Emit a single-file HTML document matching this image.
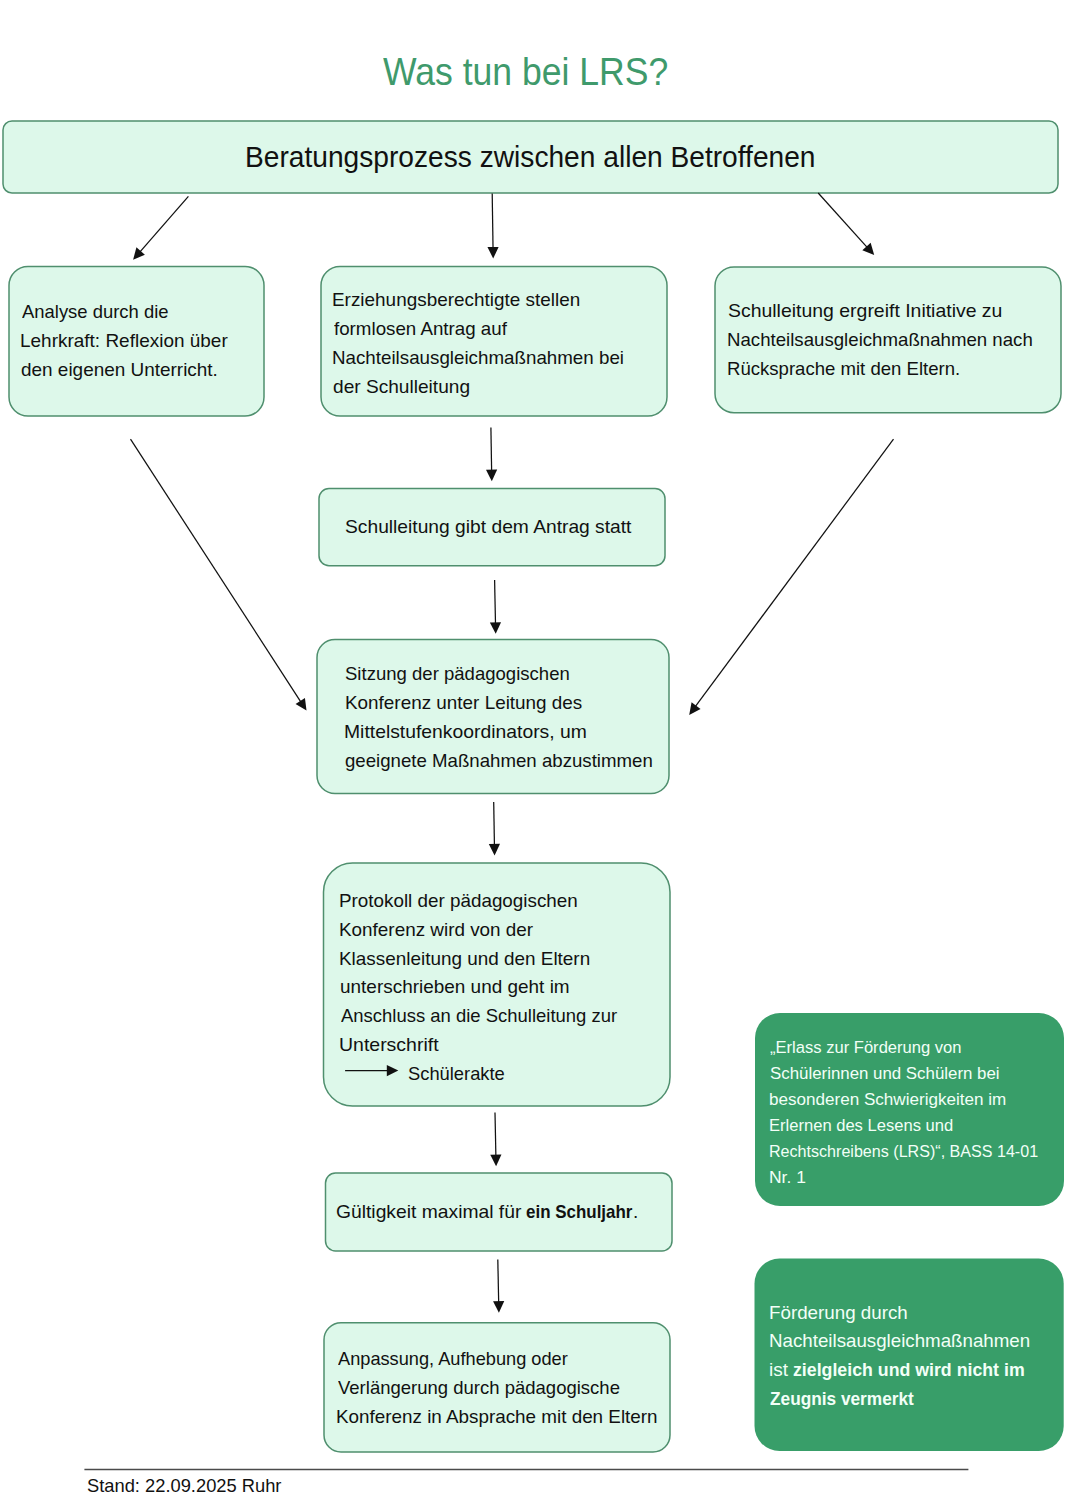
<!DOCTYPE html>
<html><head><meta charset="utf-8"><style>
html,body{margin:0;padding:0;background:#fff;}
body{width:1066px;height:1500px;position:relative;overflow:hidden;font-family:"Liberation Sans",sans-serif;}
svg{position:absolute;left:0;top:0;}
.t{position:absolute;white-space:nowrap;transform-origin:0 0;}
b{font-weight:700;}
</style></head><body>
<svg width="1066" height="1500" viewBox="0 0 1066 1500">
<rect x="3" y="121" width="1055.00" height="72.00" rx="9" ry="9" fill="#ddf8ea" stroke="#4f8f6e" stroke-width="1.5"/>
<rect x="9" y="266.5" width="255.00" height="149.50" rx="19" ry="19" fill="#ddf8ea" stroke="#4f8f6e" stroke-width="1.5"/>
<rect x="321" y="266.5" width="346.00" height="149.50" rx="19" ry="19" fill="#ddf8ea" stroke="#4f8f6e" stroke-width="1.5"/>
<rect x="715" y="267" width="346.00" height="145.70" rx="19" ry="19" fill="#ddf8ea" stroke="#4f8f6e" stroke-width="1.5"/>
<rect x="319" y="488.6" width="346.00" height="77.10" rx="10" ry="10" fill="#ddf8ea" stroke="#4f8f6e" stroke-width="1.5"/>
<rect x="317" y="639.5" width="352.00" height="154.00" rx="18" ry="18" fill="#ddf8ea" stroke="#4f8f6e" stroke-width="1.5"/>
<rect x="323.5" y="863" width="346.50" height="243.00" rx="29" ry="29" fill="#ddf8ea" stroke="#4f8f6e" stroke-width="1.5"/>
<rect x="325.5" y="1173" width="346.50" height="78.00" rx="10" ry="10" fill="#ddf8ea" stroke="#4f8f6e" stroke-width="1.5"/>
<rect x="324" y="1322.7" width="346.00" height="129.30" rx="17" ry="17" fill="#ddf8ea" stroke="#4f8f6e" stroke-width="1.5"/>
<rect x="755" y="1013" width="309.00" height="193.00" rx="25" ry="25" fill="#389e69"/>
<rect x="754.5" y="1258.6" width="309.20" height="192.40" rx="25" ry="25" fill="#389e69"/>
<line x1="84.4" y1="1469.6" x2="968.4" y2="1469.6" stroke="#4a4a4a" stroke-width="1.5"/>
<line x1="188.40" y1="196.30" x2="140.00" y2="251.79" stroke="#111" stroke-width="1.25"/><polygon points="133.10,259.70 136.44,247.35 144.88,254.71" fill="#111"/>
<line x1="492.20" y1="193.50" x2="493.04" y2="248.00" stroke="#111" stroke-width="1.25"/><polygon points="493.20,258.50 487.42,247.09 498.62,246.92" fill="#111"/>
<line x1="818.20" y1="193.00" x2="867.17" y2="247.30" stroke="#111" stroke-width="1.25"/><polygon points="874.20,255.10 862.34,250.31 870.66,242.81" fill="#111"/>
<line x1="490.90" y1="427.50" x2="491.62" y2="470.70" stroke="#111" stroke-width="1.25"/><polygon points="491.80,481.20 486.01,469.80 497.21,469.61" fill="#111"/>
<line x1="494.60" y1="580.10" x2="495.48" y2="623.30" stroke="#111" stroke-width="1.25"/><polygon points="495.70,633.80 489.87,622.42 501.06,622.19" fill="#111"/>
<line x1="130.50" y1="439.10" x2="300.79" y2="701.79" stroke="#111" stroke-width="1.25"/><polygon points="306.50,710.60 295.55,704.00 304.94,697.90" fill="#111"/>
<line x1="893.50" y1="439.10" x2="695.45" y2="706.46" stroke="#111" stroke-width="1.25"/><polygon points="689.20,714.90 691.55,702.33 700.55,708.99" fill="#111"/>
<line x1="493.70" y1="802.10" x2="494.42" y2="844.90" stroke="#111" stroke-width="1.25"/><polygon points="494.60,855.40 488.81,844.00 500.01,843.81" fill="#111"/>
<line x1="495.00" y1="1112.50" x2="495.88" y2="1155.70" stroke="#111" stroke-width="1.25"/><polygon points="496.10,1166.20 490.27,1154.82 501.46,1154.59" fill="#111"/>
<line x1="497.80" y1="1259.40" x2="498.68" y2="1302.20" stroke="#111" stroke-width="1.25"/><polygon points="498.90,1312.70 493.06,1301.32 504.26,1301.09" fill="#111"/>
<line x1="345.10" y1="1070.60" x2="387.80" y2="1070.60" stroke="#111" stroke-width="1.25"/><polygon points="398.30,1070.60 386.80,1076.20 386.80,1065.00" fill="#111"/>
</svg>
<div class="t" style="left:383.30px;top:53.28px;font-size:38.3px;line-height:38.3px;color:#3f9a6c;transform:scaleX(0.9283);">Was tun bei LRS?</div>
<div class="t" style="left:244.80px;top:141.64px;font-size:29.6px;line-height:29.6px;color:#111;transform:scaleX(0.9510);">Beratungsprozess zwischen allen Betroffenen</div>
<div class="t" style="left:21.90px;top:302.22px;font-size:19.0px;line-height:19.0px;color:#111;transform:scaleX(0.9703);">Analyse durch die</div>
<div class="t" style="left:19.89px;top:331.22px;font-size:19.0px;line-height:19.0px;color:#111;transform:scaleX(0.9985);">Lehrkraft: Reflexion über</div>
<div class="t" style="left:20.89px;top:360.22px;font-size:19.0px;line-height:19.0px;color:#111;transform:scaleX(0.9968);">den eigenen Unterricht.</div>
<div class="t" style="left:331.90px;top:290.22px;font-size:19.0px;line-height:19.0px;color:#111;transform:scaleX(0.9956);">Erziehungsberechtigte stellen</div>
<div class="t" style="left:333.90px;top:319.22px;font-size:19.0px;line-height:19.0px;color:#111;transform:scaleX(0.9860);">formlosen Antrag auf</div>
<div class="t" style="left:331.91px;top:348.22px;font-size:19.0px;line-height:19.0px;color:#111;transform:scaleX(0.9874);">Nachteilsausgleichmaßnahmen bei</div>
<div class="t" style="left:332.88px;top:377.22px;font-size:19.0px;line-height:19.0px;color:#111;transform:scaleX(1.0055);">der Schulleitung</div>
<div class="t" style="left:727.69px;top:300.52px;font-size:19.0px;line-height:19.0px;color:#111;transform:scaleX(1.0229);">Schulleitung ergreift Initiative zu</div>
<div class="t" style="left:726.71px;top:329.52px;font-size:19.0px;line-height:19.0px;color:#111;transform:scaleX(0.9814);">Nachteilsausgleichmaßnahmen nach</div>
<div class="t" style="left:726.71px;top:358.52px;font-size:19.0px;line-height:19.0px;color:#111;transform:scaleX(0.9773);">Rücksprache mit den Eltern.</div>
<div class="t" style="left:345.08px;top:517.22px;font-size:19.0px;line-height:19.0px;color:#111;transform:scaleX(1.0120);">Schulleitung gibt dem Antrag statt</div>
<div class="t" style="left:345.49px;top:663.92px;font-size:19.0px;line-height:19.0px;color:#111;transform:scaleX(0.9760);">Sitzung der pädagogischen</div>
<div class="t" style="left:344.50px;top:692.79px;font-size:19.0px;line-height:19.0px;color:#111;transform:scaleX(0.9940);">Konferenz unter Leitung des</div>
<div class="t" style="left:344.48px;top:721.66px;font-size:19.0px;line-height:19.0px;color:#111;transform:scaleX(1.0176);">Mittelstufenkoordinators, um</div>
<div class="t" style="left:345.49px;top:750.53px;font-size:19.0px;line-height:19.0px;color:#111;transform:scaleX(0.9812);">geeignete Maßnahmen abzustimmen</div>
<div class="t" style="left:338.70px;top:891.02px;font-size:19.0px;line-height:19.0px;color:#111;transform:scaleX(0.9915);">Protokoll der pädagogischen</div>
<div class="t" style="left:338.69px;top:919.80px;font-size:19.0px;line-height:19.0px;color:#111;transform:scaleX(0.9937);">Konferenz wird von der</div>
<div class="t" style="left:338.69px;top:948.58px;font-size:19.0px;line-height:19.0px;color:#111;transform:scaleX(0.9949);">Klassenleitung und den Eltern</div>
<div class="t" style="left:339.70px;top:977.36px;font-size:19.0px;line-height:19.0px;color:#111;transform:scaleX(0.9973);">unterschrieben und geht im</div>
<div class="t" style="left:340.70px;top:1006.14px;font-size:19.0px;line-height:19.0px;color:#111;transform:scaleX(0.9720);">Anschluss an die Schulleitung zur</div>
<div class="t" style="left:338.63px;top:1034.92px;font-size:19.0px;line-height:19.0px;color:#111;transform:scaleX(1.0250);">Unterschrift</div>
<div class="t" style="left:407.88px;top:1063.72px;font-size:19.0px;line-height:19.0px;color:#111;transform:scaleX(0.9644);">Schülerakte</div>
<div class="t" style="left:335.89px;top:1202.22px;font-size:19.0px;line-height:19.0px;color:#111;transform:scaleX(1.0147);">Gültigkeit maximal für</div>
<div class="t" style="left:526.40px;top:1202.22px;font-size:19.0px;line-height:19.0px;color:#111;transform:scaleX(0.8920);"><b>ein Schuljahr</b></div>
<div class="t" style="left:632.90px;top:1202.22px;font-size:19.0px;line-height:19.0px;color:#111;">.</div>
<div class="t" style="left:337.50px;top:1348.92px;font-size:19.0px;line-height:19.0px;color:#111;transform:scaleX(0.9581);">Anpassung, Aufhebung oder</div>
<div class="t" style="left:337.50px;top:1377.82px;font-size:19.0px;line-height:19.0px;color:#111;transform:scaleX(0.9741);">Verlängerung durch pädagogische</div>
<div class="t" style="left:335.50px;top:1406.72px;font-size:19.0px;line-height:19.0px;color:#111;transform:scaleX(0.9917);">Konferenz in Absprache mit den Eltern</div>
<div class="t" style="left:769.88px;top:1040.38px;font-size:16.8px;line-height:16.8px;color:#f2fff7;transform:scaleX(0.9874);">„Erlass zur Förderung von</div>
<div class="t" style="left:769.89px;top:1066.34px;font-size:16.8px;line-height:16.8px;color:#f2fff7;transform:scaleX(1.0042);">Schülerinnen und Schülern bei</div>
<div class="t" style="left:768.87px;top:1092.30px;font-size:16.8px;line-height:16.8px;color:#f2fff7;transform:scaleX(1.0173);">besonderen Schwierigkeiten im</div>
<div class="t" style="left:768.90px;top:1118.26px;font-size:16.8px;line-height:16.8px;color:#f2fff7;transform:scaleX(0.9869);">Erlernen des Lesens und</div>
<div class="t" style="left:768.93px;top:1144.22px;font-size:16.8px;line-height:16.8px;color:#f2fff7;transform:scaleX(0.9585);">Rechtschreibens (LRS)“, BASS 14-01</div>
<div class="t" style="left:768.79px;top:1170.18px;font-size:16.8px;line-height:16.8px;color:#f2fff7;transform:scaleX(1.0406);">Nr. 1</div>
<div class="t" style="left:768.70px;top:1302.82px;font-size:19.0px;line-height:19.0px;color:#f2fff7;transform:scaleX(0.9880);">Förderung durch</div>
<div class="t" style="left:768.71px;top:1331.45px;font-size:19.0px;line-height:19.0px;color:#f2fff7;transform:scaleX(0.9852);">Nachteilsausgleichmaßnahmen</div>
<div class="t" style="left:769.00px;top:1360.08px;font-size:19.0px;line-height:19.0px;color:#f2fff7;">ist</div>
<div class="t" style="left:792.89px;top:1360.08px;font-size:19.0px;line-height:19.0px;color:#f2fff7;transform:scaleX(0.9338);"><b>zielgleich und wird nicht im</b></div>
<div class="t" style="left:769.69px;top:1388.71px;font-size:19.0px;line-height:19.0px;color:#f2fff7;transform:scaleX(0.9079);"><b>Zeugnis vermerkt</b></div>
<div class="t" style="left:87.29px;top:1477.09px;font-size:18.2px;line-height:18.2px;color:#111;transform:scaleX(1.0069);">Stand: 22.09.2025 Ruhr</div>
</body></html>
